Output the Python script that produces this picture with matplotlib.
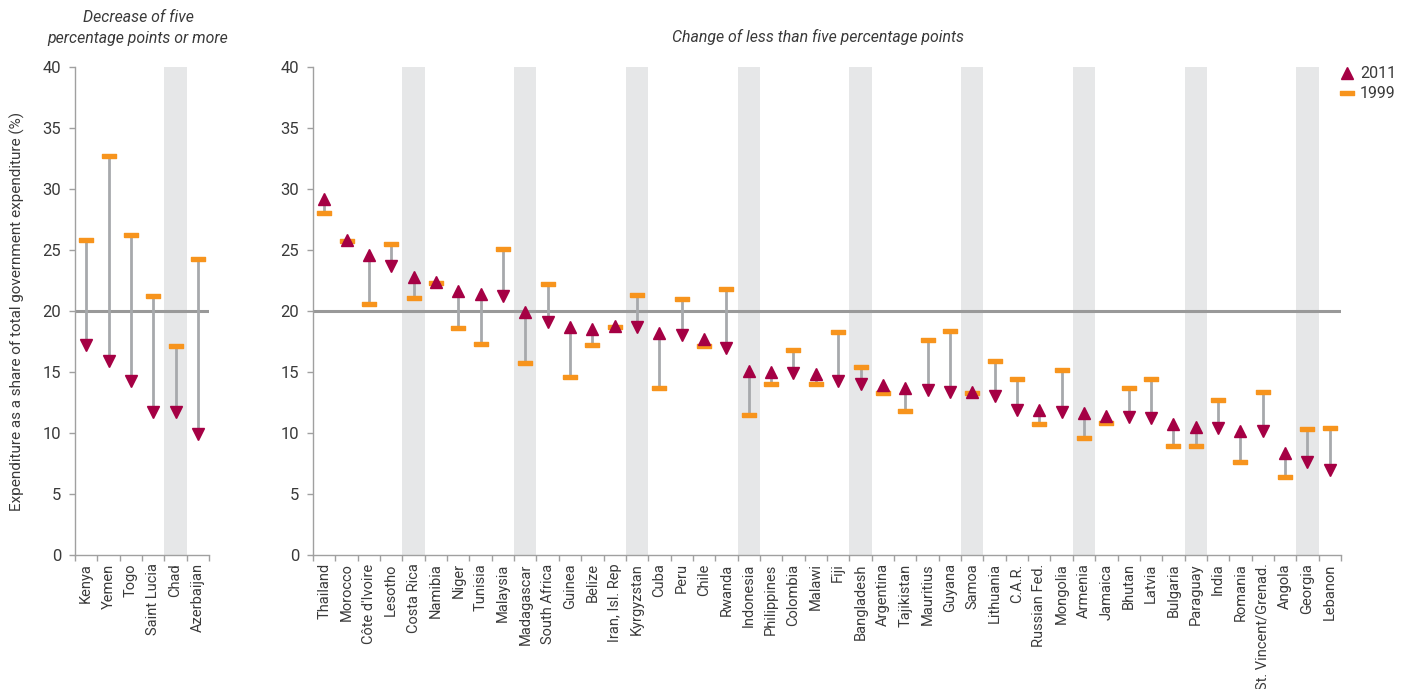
import matplotlib
matplotlib.use("Agg")
import matplotlib.pyplot as plt
from matplotlib.lines import Line2D
import numpy as np

plt.rcParams['font.family'] = ['Roboto', 'DejaVu Sans']

left_countries = ["Kenya", "Yemen", "Togo", "Saint Lucia", "Chad", "Azerbaijan"]
left_1999 = [25.8, 32.7, 26.2, 21.2, 17.1, 24.3]
left_2011 = [17.2, 15.9, 14.3, 11.7, 11.7, 9.9]

right_countries = ["Thailand", "Morocco", "Côte d'Ivoire", "Lesotho", "Costa Rica",
                   "Namibia", "Niger", "Tunisia", "Malaysia", "Madagascar",
                   "South Africa", "Guinea", "Belize", "Iran, Isl. Rep", "Kyrgyzstan",
                   "Cuba", "Peru", "Chile", "Rwanda", "Indonesia",
                   "Philippines", "Colombia", "Malawi", "Fiji", "Bangladesh",
                   "Argentina", "Tajikistan", "Mauritius", "Guyana", "Samoa",
                   "Lithuania", "C.A.R.", "Russian Fed.", "Mongolia", "Armenia",
                   "Jamaica", "Bhutan", "Latvia", "Bulgaria", "Paraguay",
                   "India", "Romania", "St. Vincent/Grenad.", "Angola", "Georgia",
                   "Lebanon"]
right_1999 = [28.0, 25.7, 20.6, 25.5, 21.1,
              22.3, 18.6, 17.3, 25.1, 15.7,
              22.2, 14.6, 17.2, 18.7, 21.3,
              13.7, 21.0, 17.1, 21.8, 11.5,
              14.0, 16.8, 14.0, 18.3, 15.4,
              13.3, 11.8, 17.6, 18.4, 13.3,
              15.9, 14.4, 10.7, 15.2, 9.6,
              10.8, 13.7, 14.4, 8.9, 8.9,
              12.7, 7.6, 13.4, 6.4, 10.3,
              10.4]
right_2011 = [29.2, 25.8, 24.6, 23.7, 22.8,
              22.4, 21.6, 21.4, 21.2, 19.9,
              19.1, 18.7, 18.5, 18.75, 18.7,
              18.2, 18.0, 17.7, 17.0, 15.1,
              15.0, 14.9, 14.8, 14.3, 14.0,
              13.9, 13.7, 13.5, 13.4, 13.4,
              13.0, 11.9, 11.9, 11.7, 11.6,
              11.4, 11.3, 11.2, 10.7, 10.5,
              10.4, 10.2, 10.2, 8.4, 7.6,
              7.0]

C_TRI = "#a50044"
C_BAR = "#f7941d"
C_STEM = "#a7a9ac"
C_BAND = "#e6e7e8"
C_REF = "#999999"
C_TXT = "#3a3a3a"
C_AX = "#a0a0a0"

bar_marker = [(-1, -0.3), (1, -0.3), (1, 0.3), (-1, 0.3), (-1, -0.3)]

W, H = 1402, 689
fig = plt.figure(figsize=(W / 100, H / 100), dpi=100)

def px_axes(x0, x1, y0, y1):
    return fig.add_axes([x0 / W, 1 - y1 / H, (x1 - x0) / W, (y1 - y0) / H])

ax_l = px_axes(75, 209, 67, 555)
ax_r = px_axes(313, 1341, 67, 555)

def draw(ax, cats, v99, v11):
    n = len(cats)
    x = np.arange(n)
    ax.set_xlim(-0.5, n - 0.5)
    ax.set_ylim(0, 40)
    for i in range(4, n, 5):
        ax.axvspan(i - 0.5, i + 0.5, color=C_BAND, lw=0, zorder=0)
    ax.axhline(20, color=C_REF, lw=2.2, zorder=1)
    for xi, a, b in zip(x, v99, v11):
        ax.plot([xi, xi], [a, b], color=C_STEM, lw=2, zorder=2, solid_capstyle='butt')
    ax.plot(x, v99, linestyle='none', marker=bar_marker, ms=10.5,
            color=C_BAR, mec=C_BAR, zorder=3)
    for xi, a, b in zip(x, v99, v11):
        m = '^' if b >= a else 'v'
        ax.plot([xi], [b], linestyle='none', marker=m, ms=8.5,
                color=C_TRI, mec=C_TRI, zorder=4)
    ax.set_xticks(x)
    ax.set_xticklabels(cats, rotation=90, fontsize=10.5, color=C_TXT)
    ax.set_xticks(np.arange(-0.5, n, 1), minor=True)
    ax.tick_params(axis='x', which='major', length=0, pad=6)
    ax.tick_params(axis='x', which='minor', length=4, color=C_AX, width=1)
    ax.set_yticks(range(0, 41, 5))
    ax.tick_params(axis='y', length=4, color=C_AX, width=1, labelsize=12,
                   labelcolor=C_TXT, pad=6)
    for s in ['top', 'right']:
        ax.spines[s].set_visible(False)
    for s in ['left', 'bottom']:
        ax.spines[s].set_color(C_AX)
        ax.spines[s].set_linewidth(1)

draw(ax_l, left_countries, left_1999, left_2011)
draw(ax_r, right_countries, right_1999, right_2011)

fig.text(17 / W, 1 - 311 / H,
         "Expenditure as a share of total government expenditure (%)",
         rotation=90, ha='center', va='center', fontsize=11, color=C_TXT)
fig.text(138 / W, 1 - 28 / H, "Decrease of five\npercentage points or more",
         ha='center', va='center', fontsize=11.4, style='italic', color=C_TXT,
         linespacing=1.55)
fig.text(818 / W, 1 - 37 / H, "Change of less than five percentage points",
         ha='center', va='center', fontsize=11.4, style='italic', color=C_TXT)

handles = [
    Line2D([], [], linestyle='none', marker='^', ms=8.5, color=C_TRI, mec=C_TRI),
    Line2D([], [], linestyle='none', marker=bar_marker, ms=10.5, color=C_BAR, mec=C_BAR),
]
fig.legend(handles, ["2011", "1999"], loc='upper left',
           bbox_to_anchor=(1333 / W, 1 - 60 / H), frameon=False,
           fontsize=11.5, handlelength=1.0, handletextpad=0.3,
           labelspacing=0.3, labelcolor=C_TXT, borderaxespad=0)

fig.savefig("out.png", dpi=100)
